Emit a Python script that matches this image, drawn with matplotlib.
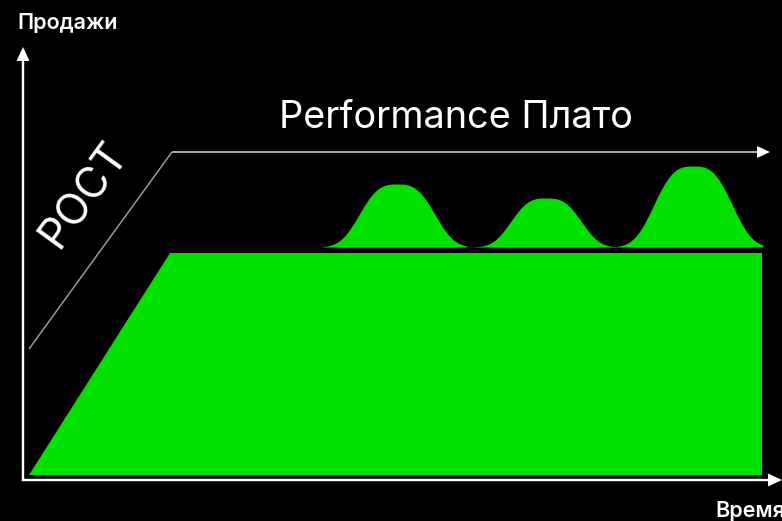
import numpy as np
import matplotlib
matplotlib.use("Agg")
import matplotlib.pyplot as plt

plt.rcParams['font.family'] = ['Inter', 'DejaVu Sans']

# ---- data (canvas units, y measured upward) ----
# plateau (green trapezoid): time vs sales
plateau_x = [29, 170, 762, 762]
plateau_y = [46, 268, 268, 46]

# growth guide line and plateau arrow
growth_x = [29, 172, 770]
growth_y = [172, 369, 369]

# bumps on plateau: start, end, centre, peak, half-width at half height
bump_start = [323, 467, 617]
bump_end = [467, 617, 763]
bump_center = [397, 546, 693]
bump_peak = [337, 323, 355]
bump_halfw = [38.5, 36, 40]
bump_base = 274

axis_origin = (23, 41)
y_axis_top = 474
x_axis_right = 782

GREEN = '#00e100'

fig = plt.figure(figsize=(7.82, 5.21), dpi=100, facecolor='black')
ax = fig.add_axes([0, 0, 1, 1])
ax.set_facecolor('black')
ax.set_xlim(0, 782)
ax.set_ylim(0, 521)
ax.axis('off')

# trapezoid
ax.fill(plateau_x, plateau_y, color=GREEN, lw=0)

# bumps
p = 3.0
for s, e, c, pk, hw in zip(bump_start, bump_end, bump_center, bump_peak, bump_halfw):
    xs = np.linspace(s, e, 300)
    w = hw / (np.log(2) ** (1 / p))
    ys = bump_base + (pk - bump_base) * np.exp(-(np.abs(xs - c) / w) ** p)
    ax.fill_between(xs, bump_base, ys, color=GREEN, lw=0)

# growth line (grey) and plateau line (white) with arrow
ax.plot(growth_x[:2], growth_y[:2], color='#9a9a9a', lw=1.1, solid_capstyle='butt')
ax.arrow(growth_x[1], growth_y[1], growth_x[2] - growth_x[1], 0, width=1.3,
         head_width=12, head_length=13, length_includes_head=True,
         color='white', lw=0)

# axes arrows
ox, oy = axis_origin
ax.arrow(ox, oy - 1, 0, y_axis_top - oy + 1, width=2.4, head_width=13, head_length=14,
         length_includes_head=True, color='white', lw=0)
ax.arrow(ox - 1.2, oy, x_axis_right - ox + 1.2, 0, width=2.4, head_width=13, head_length=14,
         length_includes_head=True, color='white', lw=0)

# texts
ax.text(17, 492, 'Продажи', color='white', fontsize=15.5, fontweight='semibold',
        ha='left', va='baseline')
ax.text(715, 4, 'Время', color='white', fontsize=15.5, fontweight='semibold',
        ha='left', va='baseline')
ax.text(279, 393, 'Performance Плато', color='white', fontsize=27.3,
        ha='left', va='baseline')
ax.text(84, 326, 'РОСТ', color='white', fontsize=31,
        rotation=54, rotation_mode='anchor', ha='center', va='center')

fig.savefig('out.png', dpi=100, facecolor='black')
